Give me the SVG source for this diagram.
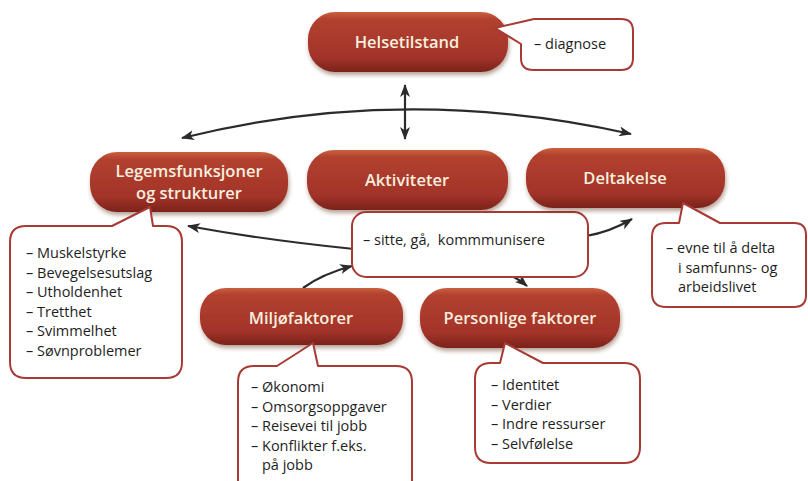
<svg xmlns="http://www.w3.org/2000/svg" width="808" height="481" viewBox="0 0 808 481">
  <defs>
    <linearGradient id="pillGrad" x1="0" y1="0" x2="0" y2="1">
      <stop offset="0" stop-color="#c9603f"/>
      <stop offset="0.12" stop-color="#b2412f"/>
      <stop offset="0.75" stop-color="#a3332a"/>
      <stop offset="1" stop-color="#7a2319"/>
    </linearGradient>
    <filter id="shadow" x="-10%" y="-20%" width="120%" height="150%">
      <feDropShadow dx="1" dy="3" stdDeviation="2" flood-color="#5a2a1a" flood-opacity="0.45"/>
    </filter>
    <marker id="arrow" viewBox="0 0 13 10" refX="12" refY="5" markerWidth="13" markerHeight="10" markerUnits="userSpaceOnUse" orient="auto-start-reverse">
      <path d="M0,0 L13,5 L0,10 L3.5,5 Z" fill="#2b2b2b"/>
    </marker>
  </defs>
  <style>
    .pill { fill: url(#pillGrad); filter: url(#shadow); }
    .pt { font-family: "Open Sans", "Noto Sans", sans-serif; font-size: 16.5px; fill: #f7efdf; text-anchor: middle; font-weight: 600; }
    .co { fill: #ffffff; stroke: #a83a35; stroke-width: 2; stroke-linejoin: round; }
    .ct { font-family: "Open Sans", "Noto Sans", sans-serif; font-size: 14.5px; fill: #1e1e1e; }
    .conn { fill: none; stroke: #2b2b2b; stroke-width: 2.2; }
  </style>
  <rect width="808" height="481" fill="#ffffff"/>

  <g id="connectors">
    <path class="conn" d="M182,138 Q403,83 631,134" marker-start="url(#arrow)" marker-end="url(#arrow)"/>
    <path class="conn" d="M405,85 L405,139" marker-start="url(#arrow)" marker-end="url(#arrow)"/>
    <path class="conn" d="M354,249 Q265,240 188,226" marker-end="url(#arrow)"/>
    <path class="conn" d="M586,236 Q610,232 632,219" marker-end="url(#arrow)"/>
    <path class="conn" d="M303,288 Q322,274 352,266" marker-end="url(#arrow)"/>
    <path class="conn" d="M512,276 Q520,280 527,286" marker-end="url(#arrow)"/>
  </g>

  <g id="helsetilstand">
    <rect class="pill" x="308" y="12" width="200" height="60" rx="27"/>
    <text class="pt" x="407" y="48">Helsetilstand</text>
  </g>
  <g id="helsetilstand-note">
    <path class="co" d="M521,44 L495,28 L534,19 L621,19 Q633,19 633,31 L633,58 Q633,70 621,70 L533,70 Q521,70 521,58 Z"/>
    <text class="ct" x="534" y="49">– diagnose</text>
  </g>

  <g id="legemsfunksjoner">
    <rect class="pill" x="90" y="152" width="198" height="60" rx="27"/>
    <text class="pt" x="189" y="177">Legemsfunksjoner</text>
    <text class="pt" x="189" y="199">og strukturer</text>
  </g>
  <g id="legemsfunksjoner-note">
    <path class="co" d="M26,226 L112,226 L150,207 L153,226 L166,226 Q182,226 182,242 L182,362 Q182,378 166,378 L26,378 Q10,378 10,362 L10,242 Q10,226 26,226 Z"/>
    <text class="ct" x="26" y="258">– Muskelstyrke</text>
    <text class="ct" x="26" y="277.5">– Bevegelsesutslag</text>
    <text class="ct" x="26" y="297">– Utholdenhet</text>
    <text class="ct" x="26" y="316.5">– Tretthet</text>
    <text class="ct" x="26" y="336">– Svimmelhet</text>
    <text class="ct" x="26" y="355.5">– Søvnproblemer</text>
  </g>

  <g id="aktiviteter">
    <rect class="pill" x="307" y="150" width="201" height="60" rx="27"/>
    <text class="pt" x="407" y="186">Aktiviteter</text>
  </g>
  <g id="aktiviteter-note">
    <rect class="co" x="352" y="212" width="236" height="65" rx="14"/>
    <text class="ct" x="363" y="245">– sitte, gå, &#160;kommmunisere</text>
  </g>

  <g id="deltakelse">
    <rect class="pill" x="526" y="148" width="199" height="60" rx="27"/>
    <text class="pt" x="625" y="184">Deltakelse</text>
  </g>
  <g id="deltakelse-note">
    <path class="co" d="M666,223 L679,223 L683,203 L720,223 L794,223 Q806,223 806,235 L806,295 Q806,307 794,307 L666,307 Q652,307 652,293 L652,237 Q652,223 666,223 Z"/>
    <text class="ct" x="666" y="253">– evne til å delta</text>
    <text class="ct" x="678" y="272.5">i samfunns- og</text>
    <text class="ct" x="678" y="292">arbeidslivet</text>
  </g>

  <g id="miljofaktorer">
    <rect class="pill" x="200" y="288" width="203" height="57" rx="26"/>
    <text class="pt" x="301" y="324">Miljøfaktorer</text>
  </g>
  <g id="miljofaktorer-note">
    <path class="co" d="M254,366 L277,366 L313,343 L318,366 L396,366 Q412,366 412,382 L412,495 L238,495 L238,382 Q238,366 254,366 Z"/>
    <text class="ct" x="251" y="392">– Økonomi</text>
    <text class="ct" x="251" y="411.5">– Omsorgsoppgaver</text>
    <text class="ct" x="251" y="431">– Reisevei til jobb</text>
    <text class="ct" x="251" y="450.5">– Konflikter f.eks.</text>
    <text class="ct" x="262" y="470">på jobb</text>
  </g>

  <g id="personlige-faktorer">
    <rect class="pill" x="420" y="288" width="200" height="60" rx="27"/>
    <text class="pt" x="520" y="324">Personlige faktorer</text>
  </g>
  <g id="personlige-faktorer-note">
    <path class="co" d="M491,363 L500,363 L505,343 L543,363 L624,363 Q640,363 640,379 L640,447 Q640,463 624,463 L491,463 Q475,463 475,447 L475,379 Q475,363 491,363 Z"/>
    <text class="ct" x="491" y="390">– Identitet</text>
    <text class="ct" x="491" y="409.5">– Verdier</text>
    <text class="ct" x="491" y="429">– Indre ressurser</text>
    <text class="ct" x="491" y="448.5">– Selvfølelse</text>
  </g>
</svg>
